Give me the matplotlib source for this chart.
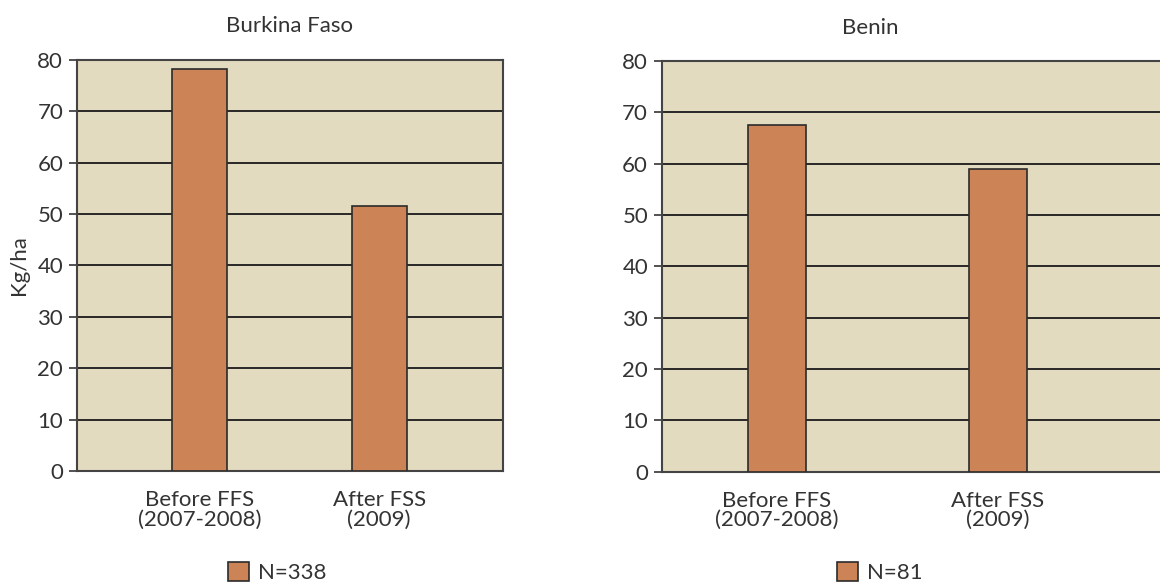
import matplotlib
matplotlib.use("Agg")
import matplotlib.pyplot as plt

plt.rcParams['font.family'] = ['Lato', 'DejaVu Sans']

categories = ["Before FFS\n(2007-2008)", "After FSS\n(2009)"]
burkina_values = [78.3, 51.6]
benin_values = [67.6, 59.0]
burkina_n = "N=338"
benin_n = "N=81"
yticks = [0, 10, 20, 30, 40, 50, 60, 70, 80]

BG = "#e3dbc0"
BAR = "#cc8356"
EDGE = "#2b2b2b"
TXT = "#333333"
FS = 16

fig = plt.figure(figsize=(11.6, 5.83), dpi=100)

ax1 = fig.add_axes([0.0664, 0.1921, 0.3672, 0.705])
ax2 = fig.add_axes([0.5707, 0.191, 0.449, 0.7045])


def draw(ax, values, title, xlim, width, label, leg_xy):
    x = list(range(len(categories)))
    ax.set_facecolor(BG)
    ax.set_axisbelow(True)
    ax.yaxis.grid(True, color="#1a1a1a", linewidth=1.3)
    bars = ax.bar(x, values, width=width, color=BAR, edgecolor=EDGE,
                  linewidth=1.2, label=label, zorder=3)
    ax.set_ylim(0, 80)
    ax.set_xlim(*xlim)
    ax.set_yticks(yticks)
    ax.set_xticks(x)
    ax.set_xticklabels(categories, fontsize=FS, color=TXT, linespacing=0.95)
    ax.tick_params(axis="x", length=0, pad=14)
    ax.tick_params(axis="y", length=6, width=1.3, color="#444444",
                   labelsize=FS, labelcolor=TXT, pad=4)
    for s in ax.spines.values():
        s.set_color("#444444")
        s.set_linewidth(1.5)
    ax.set_title(title, fontsize=FS, color=TXT, pad=20)
    ax.legend(handles=[bars], loc="upper left", bbox_to_anchor=leg_xy,
              bbox_transform=fig.transFigure, frameon=False, fontsize=FS,
              handlelength=0.95, handleheight=0.95, borderpad=0,
              borderaxespad=0, handletextpad=0.4, labelcolor=TXT)


draw(ax1, burkina_values, "Burkina Faso", (-0.682, 1.69), 0.306,
     burkina_n, (0.1966, 0.036))
draw(ax2, benin_values, "", (-0.52, 1.837), 0.26, benin_n, (0.7216, 0.036))
ax1.set_ylabel("Kg/ha", fontsize=FS, color=TXT, labelpad=6)
fig.text(0.75, 0.952, "Benin", fontsize=FS, color=TXT, ha="center", va="center")

fig.savefig("out.png", dpi=100)
